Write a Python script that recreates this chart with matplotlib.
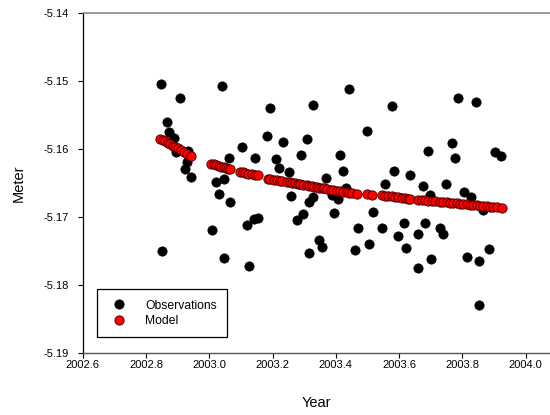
import matplotlib
matplotlib.use('Agg')
import matplotlib.pyplot as plt
import numpy as np

plt.rcParams['font.family'] = ['Liberation Sans', 'DejaVu Sans']
plt.rcParams['axes.unicode_minus'] = False

# observations (year, meter)
obs_year = [2002.8465, 2002.9075, 2003.0393, 2002.8655, 2002.8737, 2002.8886, 2002.8939, 2002.9328,
            2002.9297, 2002.9233, 2002.9429, 2003.1035, 2003.0624, 2003.0213, 2003.0456, 2003.0292,
            2003.0671, 2003.1177, 2003.1414, 2003.1550, 2003.0096, 2002.8497, 2003.0475, 2003.1256,
            2003.1929, 2003.3269, 2003.1825, 2003.2315, 2003.3080, 2003.1446, 2003.2119, 2003.2890,
            2003.2204, 2003.2505, 2003.3674, 2003.2584, 2003.3288, 2003.3137, 2003.2947, 2003.2783,
            2003.3468, 2003.3548, 2003.3162, 2003.4417, 2003.5766, 2003.4995, 2003.4117, 2003.4237,
            2003.5845, 2003.6335, 2003.5570, 2003.6746, 2003.3870, 2003.4078, 2003.4322, 2003.3933,
            2003.5191, 2003.4701, 2003.5466, 2003.6146, 2003.5956, 2003.6234, 2003.5049, 2003.4616,
            2003.6613, 2003.6591, 2003.7871, 2003.8446, 2003.7682, 2003.6920, 2003.7767, 2003.9022,
            2003.9215, 2003.7492, 2003.6977, 2003.8067, 2003.8266, 2003.8642, 2003.6812, 2003.7293,
            2003.7397, 2003.6999, 2003.8153, 2003.8535, 2003.8835, 2003.8516]
obs_meter = [-5.15044, -5.15246, -5.15074, -5.15599, -5.15746, -5.15834, -5.16035, -5.16018,
             -5.16182, -5.16290, -5.16412, -5.15971, -5.16121, -5.16477, -5.16441, -5.16657,
             -5.16779, -5.17118, -5.17025, -5.17006, -5.17190, -5.17503, -5.17602, -5.17712,
             -5.15388, -5.15356, -5.15800, -5.15890, -5.15851, -5.16132, -5.16143, -5.16079,
             -5.16275, -5.16331, -5.16429, -5.16687, -5.16697, -5.16771, -5.16954, -5.17040,
             -5.17329, -5.17441, -5.17521, -5.15116, -5.15368, -5.15738, -5.16081, -5.16322,
             -5.16322, -5.16378, -5.16506, -5.16544, -5.16672, -5.16735, -5.16569, -5.16940,
             -5.16918, -5.17160, -5.17160, -5.17088, -5.17278, -5.17452, -5.17397, -5.17481,
             -5.17246, -5.17753, -5.15249, -5.15300, -5.15912, -5.16032, -5.16132, -5.16043,
             -5.16094, -5.16515, -5.16677, -5.16632, -5.16706, -5.16897, -5.17079, -5.17162,
             -5.17250, -5.17613, -5.17579, -5.17643, -5.17471, -5.18297]

# model values
model_year = [2002.8443, 2002.8522, 2002.8601, 2002.8680, 2002.8759, 2002.8838, 2002.8917, 2002.8996,
              2002.9091, 2002.9186, 2002.9296, 2002.9423,
              2003.0055, 2003.0134, 2003.0213, 2003.0292, 2003.0371, 2003.0450, 2003.0529, 2003.0592,
              2003.0665,
              2003.0972, 2003.1051, 2003.1145, 2003.1240, 2003.1335, 2003.1430, 2003.1531,
              2003.1847, 2003.1920, 2003.2056, 2003.2132, 2003.2236, 2003.2309, 2003.2448, 2003.2552,
              2003.2606, 2003.2710, 2003.2795, 2003.2868, 2003.2972, 2003.3080, 2003.3152, 2003.3238,
              2003.3320, 2003.3396, 2003.3468, 2003.3554, 2003.3636, 2003.3712, 2003.3848, 2003.3921,
              2003.4028, 2003.4132, 2003.4237, 2003.4344, 2003.4426, 2003.4502, 2003.4660,
              2003.4976, 2003.5144,
              2003.5450, 2003.5555, 2003.5659, 2003.5766, 2003.5871, 2003.5975, 2003.6082, 2003.6187,
              2003.6291, 2003.6345,
              2003.6607, 2003.6714, 2003.6819, 2003.6923, 2003.7031, 2003.7135, 2003.7293, 2003.7397,
              2003.7505, 2003.7609, 2003.7713, 2003.7821, 2003.7925, 2003.8029, 2003.8137, 2003.8241,
              2003.8345, 2003.8453, 2003.8557, 2003.8661, 2003.8769, 2003.8873, 2003.8977, 2003.9085,
              2003.9243]
model_meter = [-5.15844, -5.15865, -5.15885, -5.15906, -5.15926, -5.15947, -5.15968, -5.15988,
               -5.16013, -5.16038, -5.16066, -5.16099,
               -5.16212, -5.16222, -5.16234, -5.16244, -5.16254, -5.16265, -5.16276, -5.16284,
               -5.16294,
               -5.16334, -5.16341, -5.16350, -5.16357, -5.16366, -5.16374, -5.16382,
               -5.16432, -5.16438, -5.16449, -5.16454, -5.16463, -5.16469, -5.16481, -5.16488,
               -5.16493, -5.16501, -5.16509, -5.16515, -5.16522, -5.16531, -5.16537, -5.16544,
               -5.16550, -5.16556, -5.16562, -5.16569, -5.16575, -5.16581, -5.16593, -5.16599,
               -5.16607, -5.16615, -5.16624, -5.16632, -5.16638, -5.16644, -5.16657,
               -5.16662, -5.16672,
               -5.16677, -5.16682, -5.16688, -5.16694, -5.16700, -5.16706, -5.16712, -5.16718,
               -5.16724, -5.16727,
               -5.16741, -5.16746, -5.16750, -5.16756, -5.16760, -5.16765, -5.16772, -5.16777,
               -5.16781, -5.16787, -5.16791, -5.16796, -5.16800, -5.16804, -5.16810, -5.16815,
               -5.16819, -5.16824, -5.16828, -5.16834, -5.16838, -5.16843, -5.16847, -5.16852,
               -5.16859]

x_ticks = [2002.6, 2002.8, 2003.0, 2003.2, 2003.4, 2003.6, 2003.8, 2004.0]
y_ticks = [-5.19, -5.18, -5.17, -5.16, -5.15, -5.14]

fig = plt.figure(figsize=(5.5, 4.15), dpi=100)
ax = fig.add_axes([0.1504, 0.1487, 0.8496, 0.8193])

ax.plot(obs_year, obs_meter, 'o', ms=6.7, mfc='black', mec='black', mew=0.5,
        label='Observations', zorder=3)
ax.plot(model_year, model_meter, 'o', ms=6.7, mfc='#ff0000', mec='#3a0000', mew=0.6,
        label='Model', zorder=4)

ax.set_xlim(2002.6, 2004.077)
ax.set_ylim(-5.19, -5.14)
ax.set_xticks(x_ticks)
ax.set_xticklabels(['%.1f' % v for v in x_ticks])
ax.set_yticks(y_ticks)
ax.set_yticklabels(['%.2f' % v for v in y_ticks])
ax.tick_params(axis='both', direction='out', length=3.6, width=0.8, labelsize=8, colors='black')
ax.tick_params(axis='x', pad=1.5)
ax.tick_params(axis='y', pad=6.5)

ax.spines['right'].set_visible(False)
ax.spines['left'].set_color('black')
ax.spines['left'].set_linewidth(0.9)
ax.spines['bottom'].set_color('#555555')
ax.spines['bottom'].set_linewidth(1.0)
ax.spines['top'].set_color('#808080')
ax.spines['top'].set_linewidth(1.1)

ax.set_xlabel('Year', fontsize=10.5)
ax.set_ylabel('Meter', fontsize=10.5)
ax.xaxis.set_label_coords(0.5, -0.127)
ax.yaxis.set_label_coords(-0.122, 0.5)

leg = ax.legend(loc='upper left', bbox_to_anchor=(0.030, 0.188), borderaxespad=0,
                fontsize=8.7, numpoints=1, fancybox=False, framealpha=1,
                edgecolor='black', borderpad=0.85, labelspacing=0.28,
                handlelength=2.0, handletextpad=1.15)
leg.get_frame().set_linewidth(0.9)

fig.savefig('out.png', dpi=100)
